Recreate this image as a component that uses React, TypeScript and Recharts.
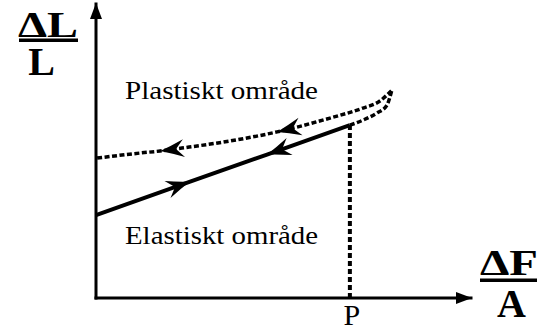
import { Line, LineChart, ReferenceLine, XAxis, YAxis } from 'recharts';

// schematic units, both axes 0..100
const elasticLine = [
  { x: 0, y: 28.2 },
  { x: 25.1, y: 39.6, arrow: 1 },
  { x: 45.6, y: 48.8, arrow: -1 },
  { x: 67.7, y: 58.8 },
];

const loadingCurve = [
  { x: 67.7, y: 58.8 },
  { x: 71.2, y: 60.5 },
  { x: 74.9, y: 62.9 },
  { x: 77.6, y: 65.6 },
  { x: 78.4, y: 68.4 },
  { x: 78.9, y: 70.7 },
];

const unloadingCurve = [
  { x: 0.3, y: 47.6 },
  { x: 11.7, y: 49.3 },
  { x: 17.1, y: 50.0, arrow: -1 },
  { x: 22.9, y: 51.0 },
  { x: 35.7, y: 53.4 },
  { x: 48.3, y: 56.5, arrow: -1 },
  { x: 62.4, y: 61.2 },
  { x: 71.2, y: 64.6 },
  { x: 75.7, y: 67.0 },
  { x: 78.9, y: 70.7 },
];

const pLoad = 67.7;
const pStrain = 58.8;

const plasticLabel = 'Plastiskt område';
const elasticLabel = 'Elastiskt område';
const yTop = 'ΔL';
const yBottom = 'L';
const xTop = 'ΔF';
const xBottom = 'A';
const pLabel = 'P';

const serif = { fontFamily: '"Liberation Serif", "Times New Roman", Times, serif' };

function ArrowDot(props: any) {
  const { cx, cy, payload, points, index } = props;
  if (!payload || !payload.arrow || cx == null) return <g key={`d-${index}`} />;
  const prev = points[index - 1] ?? points[index];
  const next = points[index + 1] ?? points[index];
  let angle = (Math.atan2(next.y - prev.y, next.x - prev.x) * 180) / Math.PI;
  if (payload.arrow < 0) angle += 180;
  return (
    <path
      key={`d-${index}`}
      d="M0,0 Q-11,-3.5 -24,-9 L-16,0 L-24,9 Q-11,3.5 0,0 Z"
      fill="#000"
      stroke="none"
      transform={`translate(${cx},${cy}) rotate(${angle})`}
    />
  );
}

export default function App() {
  return (
    <div style={{ position: 'absolute', left: 0, top: 0, width: 537, height: 330, background: '#fff' }}>
      <LineChart
        width={537}
        height={330}
        margin={{ top: 4, right: 66, bottom: 31, left: 95 }}
      >
        <defs>
          <marker
            id="axisHead"
            viewBox="0 0 16 12"
            refX="15"
            refY="6"
            markerWidth="16"
            markerHeight="12"
            markerUnits="userSpaceOnUse"
            orient="auto-start-reverse"
          >
            <path d="M0,0 L16,6 L0,12 Z" fill="#000" />
          </marker>
        </defs>
        <XAxis
          dataKey="x"
          type="number"
          domain={[0, 100]}
          height={1}
          tick={false}
          tickLine={false}
          axisLine={{ stroke: '#000', strokeWidth: 3, strokeLinecap: 'square', markerEnd: 'url(#axisHead)' }}
        />
        <YAxis
          dataKey="y"
          type="number"
          domain={[0, 100]}
          width={1}
          tick={false}
          tickLine={false}
          axisLine={{ stroke: '#000', strokeWidth: 3, strokeLinecap: 'square', markerStart: 'url(#axisHead)' }}
        />
        <ReferenceLine
          segment={[
            { x: pLoad, y: 0 },
            { x: pLoad, y: pStrain },
          ]}
          stroke="#000"
          strokeWidth={4}
          strokeDasharray="5 3"
          label={(p: any) => (
            <text
              x={p.viewBox.x + 2}
              y={p.viewBox.y + p.viewBox.height + 27}
              textAnchor="middle"
              style={serif}
              fontSize={30}
              fill="#000"
            >
              {pLabel}
            </text>
          )}
        />
        <Line
          data={unloadingCurve}
          dataKey="y"
          type="monotone"
          stroke="#000"
          strokeWidth={3.5}
          strokeDasharray="5 2.5"
          dot={ArrowDot}
          activeDot={false}
          isAnimationActive={false}
        />
        <Line
          data={loadingCurve}
          dataKey="y"
          type="monotone"
          stroke="#000"
          strokeWidth={3.5}
          strokeDasharray="5 2.5"
          dot={false}
          activeDot={false}
          isAnimationActive={false}
        />
        <Line
          data={elasticLine}
          dataKey="y"
          type="linear"
          stroke="#000"
          strokeWidth={4}
          dot={ArrowDot}
          activeDot={false}
          isAnimationActive={false}
        />
        <text x={125} y={99} style={serif} fontSize={26} textLength={193} lengthAdjust="spacingAndGlyphs" fill="#000">
          {plasticLabel}
        </text>
        <text x={125} y={244} style={serif} fontSize={26} textLength={193} lengthAdjust="spacingAndGlyphs" fill="#000">
          {elasticLabel}
        </text>
        <text x={18} y={37} style={serif} fontWeight="bold" fontSize={36} textLength={60} lengthAdjust="spacingAndGlyphs" fill="#000">
          {yTop}
        </text>
        <rect x={19} y={38.5} width={59} height={3.5} fill="#000" />
        <text x={41.5} y={75} textAnchor="middle" style={serif} fontWeight="bold" fontSize={40} fill="#000">
          {yBottom}
        </text>
        <text x={480} y={275} style={serif} fontWeight="bold" fontSize={35} textLength={58} lengthAdjust="spacingAndGlyphs" fill="#000">
          {xTop}
        </text>
        <rect x={480} y={278.5} width={58} height={3.5} fill="#000" />
        <text x={511.5} y={317} textAnchor="middle" style={serif} fontWeight="bold" fontSize={40} fill="#000">
          {xBottom}
        </text>
      </LineChart>
    </div>
  );
}
